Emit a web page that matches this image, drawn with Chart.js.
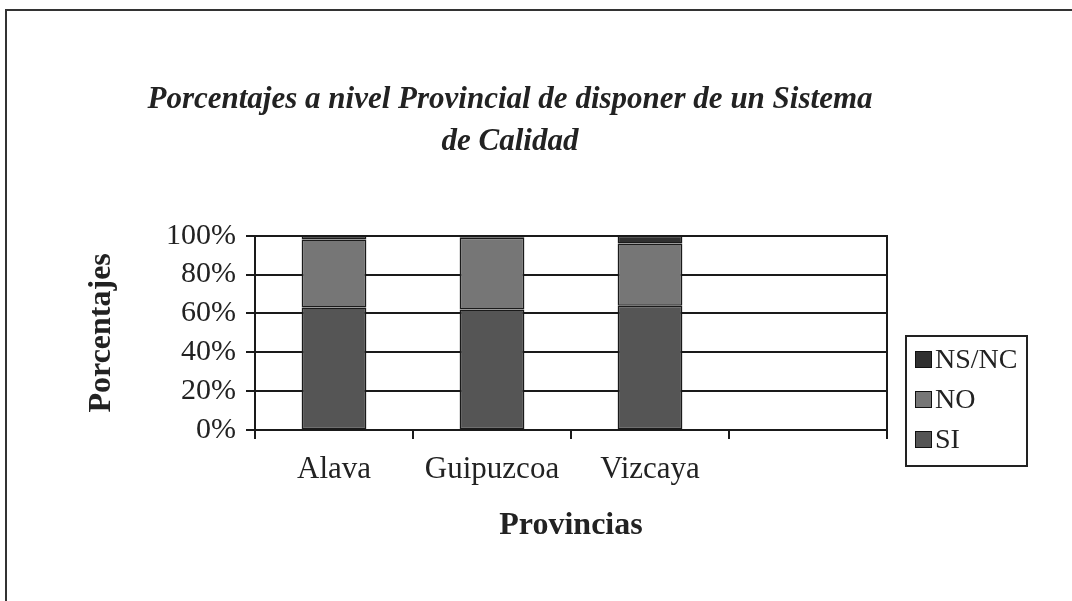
<!DOCTYPE html>
<html>
<head>
<meta charset="utf-8">
<script src="https://cdn.jsdelivr.net/npm/chart.js@4.4.1/dist/chart.umd.min.js"></script>
<style>
  html, body { margin: 0; padding: 0; background: #fff; }
  #wrap { position: relative; width: 1072px; height: 601px; overflow: hidden; }
  #frame { position: absolute; left: 5px; top: 9px; width: 1100px; height: 620px;
           border-left: 2px solid #333; border-top: 2px solid #333; pointer-events: none; }
  #legend { position: absolute; left: 905px; top: 335px; width: 123px; height: 132px;
            border: 2px solid #222; box-sizing: border-box; font-family: "Liberation Serif", serif;
            font-size: 28px; color: #222; padding-top: 2px; }
  #legend .it { display: flex; align-items: center; height: 40px; padding-left: 8px; }
  #legend .sw { width: 17px; height: 17px; border: 1px solid #111; box-sizing: border-box; margin-right: 3px; }
</style>
</head>
<body>
<div id="wrap">
  <canvas id="c" width="1072" height="601"></canvas>
  <div id="frame"></div>
  <div id="legend"></div>
</div>
<script>
const categories = ['Alava', 'Guipuzcoa', 'Vizcaya', ''];
const seriesNames = ['SI', 'NO', 'NS/NC'];
const valuesSI = [63, 62, 64, null];
const valuesNO = [35, 37, 32, null];
const valuesNSNC = [2, 1, 4, null];
const yTicks = [0, 20, 40, 60, 80, 100];
const titleLines = ['Porcentajes a nivel Provincial de disponer de un Sistema', 'de Calidad'];
const colors = ['#555555', '#767676', '#303030'];

const serif = '"Liberation Serif", "Times New Roman", serif';

const datasets = [valuesSI, valuesNO, valuesNSNC].map((vals, i) => ({
  label: seriesNames[i],
  data: vals,
  backgroundColor: colors[i],
  borderColor: '#1a1a1a',
  borderWidth: 1.5,
  borderSkipped: false,
  barPercentage: 0.41,
  categoryPercentage: 1.0,
  yAxisID: 'y'
}));

// legend (reverse order like reference)
const leg = document.getElementById('legend');
for (let i = datasets.length - 1; i >= 0; i--) {
  const it = document.createElement('div');
  it.className = 'it';
  it.innerHTML = '<span class="sw" style="background:' + colors[i] + '"></span><span>' + seriesNames[i] + '</span>';
  leg.appendChild(it);
}

new Chart(document.getElementById('c'), {
  type: 'bar',
  data: { labels: categories, datasets },
  options: {
    responsive: false,
    animation: false,
    layout: { padding: { left: 0, right: 52, top: 0, bottom: 0 } },
    plugins: {
      legend: { display: false },
      tooltip: { enabled: false },
      title: {
        display: true,
        text: titleLines,
        color: '#222',
        font: { family: serif, size: 31, style: 'italic', weight: 'bold', lineHeight: 1.35 },
        padding: { top: 79, bottom: 73 },
        align: 'center'
      }
    },
    scales: {
      x: {
        stacked: true,
        afterFit(s) { s.height = 171; },
        grid: { display: true, drawOnChartArea: false, offset: true, color: '#1a1a1a', lineWidth: 2, tickLength: 9 },
        border: { display: true, color: '#1a1a1a', width: 2 },
        ticks: { color: '#222', font: { family: serif, size: 31 }, padding: 12, maxRotation: 0, autoSkip: false },
        title: { display: true, text: 'Provincias', color: '#222',
                 font: { family: serif, size: 32, weight: 'bold' }, padding: { top: 0, bottom: 56 } }
      },
      y: {
        stacked: true,
        min: 0, max: 100,
        afterFit(s) { s.width = 255; },
        afterBuildTicks(s) { s.ticks = yTicks.map(v => ({ value: v })); },
        grid: { color: '#1a1a1a', lineWidth: 2, tickLength: 9 },
        border: { display: true, color: '#1a1a1a', width: 2 },
        ticks: { color: '#222', font: { family: serif, size: 30, lineHeight: 1.0 }, padding: 10, autoSkip: false,
                 callback: v => v + '%' },
        title: { display: true, text: 'Porcentajes', color: '#222',
                 font: { family: serif, size: 32, weight: 'bold' }, padding: { top: 83, bottom: 0 } }
      },
      yRight: {
        position: 'right',
        min: 0, max: 100,
        afterFit(s) { s.width = 133; },
        grid: { display: false },
        ticks: { display: false },
        border: { display: true, color: '#1a1a1a', width: 2 }
      }
    }
  }
});
</script>
</body>
</html>
